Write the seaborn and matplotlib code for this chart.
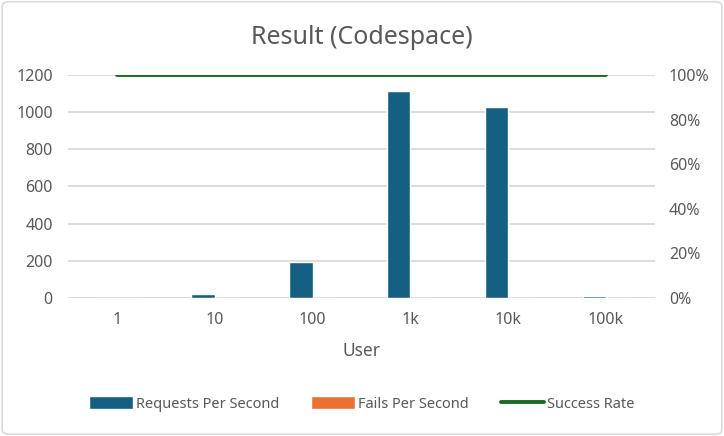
import numpy as np
import pandas as pd
import seaborn as sns
import matplotlib.pyplot as plt
from matplotlib.patches import Patch, FancyBboxPatch
from matplotlib.lines import Line2D
from matplotlib.ticker import PercentFormatter

# values
users = ["1", "10", "100", "1k", "10k", "100k"]
requests_per_sec = [1, 20, 195, 1114, 1030, 10]
fails_per_sec = [0, 0, 0, 0, 0, 0]
success_rate = [1.0, 1.0, 1.0, 1.0, 1.0, 1.0]

blue = "#156082"
orange = "#E97132"
green = "#196B24"
text_col = "#595959"
grid_col = "#D9D9D9"

sns.set_theme(style="white")
plt.rcParams["font.family"] = ["Noto Sans", "DejaVu Sans"]

df = pd.DataFrame({
    "User": users * 2,
    "value": requests_per_sec + fails_per_sec,
    "series": ["Requests Per Second"] * 6 + ["Fails Per Second"] * 6,
})

fig = plt.figure(figsize=(7.24, 4.36), dpi=100)
ax = fig.add_axes([68 / 724, 1 - 298 / 436, (655 - 68) / 724, (298 - 75) / 436])

# bars for requests / fails
sns.barplot(data=df, x="User", y="value", hue="series",
            palette=[blue, orange], width=0.477, dodge=True,
            saturation=1, ax=ax, legend=False)

ax.set_ylim(0, 1200)
ax.set_yticks(np.arange(0, 1201, 200))
ax.set_xlim(-0.5, 5.5)
ax.grid(axis="y", color=grid_col, lw=1.3)
ax.set_axisbelow(True)
ax.set_ylabel("")
ax.set_xlabel("User", fontsize=12.5, color=text_col, labelpad=10)
ax.tick_params(axis="both", length=0, labelsize=11.5, colors=text_col)
ax.tick_params(axis="x", pad=10)
ax.tick_params(axis="y", pad=11)
for s in ax.spines.values():
    s.set_visible(False)

# success rate on secondary axis
ax2 = ax.twinx()
sns.lineplot(x=np.arange(len(users)), y=success_rate, color=green, lw=2.8, ax=ax2)
ax2.set_ylim(0, 1)
ax2.set_yticks(np.arange(0, 1.01, 0.2))
ax2.yaxis.set_major_formatter(PercentFormatter(1.0, decimals=0))
ax2.tick_params(axis="y", length=0, labelsize=11.5, colors=text_col, pad=10)
for s in ax2.spines.values():
    s.set_visible(False)

fig.text(0.5, 1 - 37 / 436, "Result (Codespace)", ha="center", va="center",
         fontsize=18, color=text_col)

handles = [
    Patch(facecolor=blue, label="Requests Per Second"),
    Patch(facecolor=orange, label="Fails Per Second"),
    Line2D([], [], color=green, lw=2.8, label="Success Rate"),
]
fig.legend(handles=handles, loc="center", bbox_to_anchor=(0.5, 1 - 404 / 436),
           ncol=3, frameon=False, fontsize=10.5, labelcolor=text_col,
           handlelength=3.0, handleheight=1.0, handletextpad=0.2,
           columnspacing=2.2)

# chart border
fig.patches.append(FancyBboxPatch((0.003, 0.004), 0.994, 0.992,
                                  boxstyle="round,pad=0,rounding_size=0.01",
                                  transform=fig.transFigure, fill=False,
                                  edgecolor=grid_col, lw=1.2))

fig.savefig("out.png", dpi=100)
